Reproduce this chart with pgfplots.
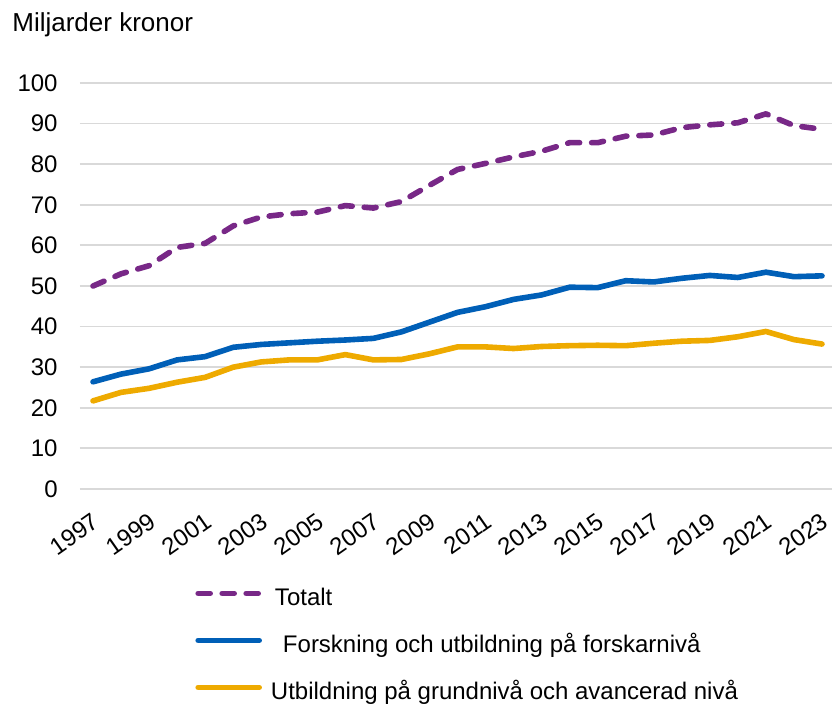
\documentclass[border=0pt]{standalone}
\usepackage{fontspec}
\setmainfont{Liberation Sans}
\usepackage{pgfplots}
\pgfplotsset{compat=1.18}
\usepackage{pgfplotstable}
\definecolor{tot}{HTML}{782887}
\definecolor{forsk}{HTML}{005FB7}
\definecolor{utb}{HTML}{EEAA00}
\definecolor{gridc}{HTML}{D9D9D9}

% year, totalt, forskning, utbildning (miljarder kronor)
\pgfplotstableread{
ar tot forsk utb
1997 50.0 26.4 21.7
1998 53.0 28.3 23.8
1999 55.0 29.6 24.8
2000 59.5 31.8 26.3
2001 60.5 32.6 27.5
2002 64.8 34.9 30.0
2003 67.0 35.6 31.3
2004 67.8 36.0 31.8
2005 68.2 36.4 31.8
2006 69.8 36.7 33.1
2007 69.2 37.1 31.8
2008 70.8 38.7 31.9
2009 74.8 41.1 33.3
2010 78.7 43.5 35.0
2011 80.2 44.9 35.0
2012 81.8 46.7 34.6
2013 83.2 47.8 35.1
2014 85.3 49.7 35.3
2015 85.3 49.6 35.4
2016 86.9 51.3 35.3
2017 87.2 51.0 35.9
2018 89.0 51.9 36.4
2019 89.7 52.6 36.6
2020 90.2 52.1 37.5
2021 92.4 53.4 38.8
2022 89.5 52.3 36.8
2023 88.6 52.5 35.7
}\data

\begin{document}
\begin{tikzpicture}
\useasboundingbox (-40pt,-109pt) rectangle (376pt,244.5pt);
\begin{axis}[
  width=376pt, height=203pt, scale only axis,
  xmin=1996.536, xmax=2023.357, ymin=0, ymax=100,
  axis line style={draw=none},
  major tick length=0pt,
  ymajorgrids, grid style={gridc, line width=0.9pt},
  ytick={0,10,...,100},
  xtick={1997,1999,...,2023},
  /pgf/number format/1000 sep={},
  /pgf/number format/assume math mode=true,
  yticklabel style={font=\fontsize{12}{14}\selectfont, anchor=east, inner sep=0pt, xshift=-11pt},
  xticklabel style={font=\fontsize{12}{14}\selectfont, rotate=35, anchor=north east,
    inner sep=0pt, yshift=-8.6pt, xshift=-7pt},
  every axis plot/.append style={line width=2.8pt, line cap=round, line join=round},
  legend style={draw=none, fill=none, inner sep=0pt, at={(57.5pt,-49pt)}, anchor=north west,
    font=\fontsize{12}{14}\selectfont, row sep=11.5pt,
    nodes={inner sep=0pt, text height=9pt, text depth=3pt},
    cells={anchor=west},
    /tikz/every odd column/.append style={column sep=6.5pt}},
  legend image code/.code={\draw[#1] (0pt,3pt) -- (30.5pt,3pt);},
]
\addplot[tot, dash pattern=on 6pt off 6pt] table[x=ar, y=tot] {\data};
\addlegendentry{Totalt}
\addplot[forsk] table[x=ar, y=forsk] {\data};
\addlegendentry{\hspace{4pt}Forskning och utbildning på forskarnivå}
\addplot[utb] table[x=ar, y=utb] {\data};
\addlegendentry{\hspace{-2pt}Utbildning på grundnivå och avancerad nivå}
\end{axis}
\node[anchor=base west, inner sep=0pt, font=\fontsize{13}{15}\selectfont]
  at ([xshift=-34pt, yshift=25.7pt]current axis.north west) {Miljarder kronor};
\end{tikzpicture}
\end{document}
